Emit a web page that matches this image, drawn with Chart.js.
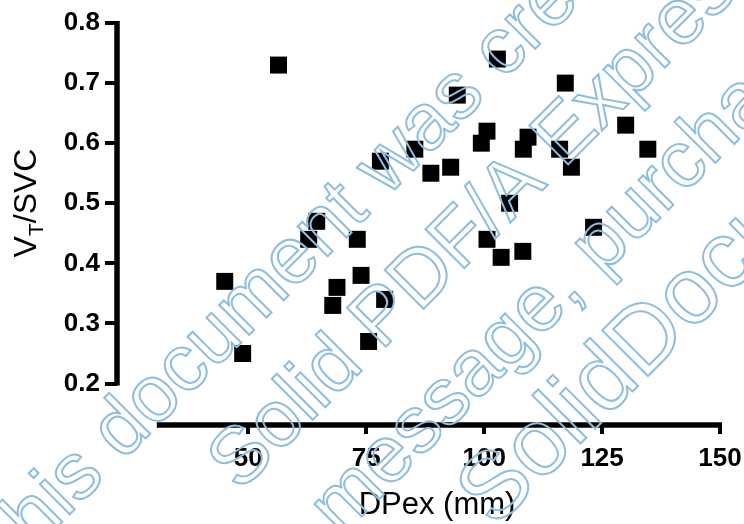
<!DOCTYPE html>
<html><head><meta charset="utf-8">
<script src="https://cdn.jsdelivr.net/npm/chart.js@4/dist/chart.umd.min.js"></script>
<style>html,body{margin:0;padding:0;background:#fff;}canvas{display:block;}</style>
</head><body>
<canvas id="c" width="744" height="524"></canvas>
<script>
// ---- data ----
const dpex  = [45.0, 48.8, 56.4, 62.8, 64.5, 67.9, 68.8, 73.1, 73.9, 75.5, 78.0, 78.9, 85.3, 88.7, 92.9, 94.3, 99.4, 100.6, 100.6, 102.8, 103.6, 105.4, 108.2, 108.3, 109.3, 116.0, 117.2, 118.5, 123.2, 130.0, 134.7];
const vtsvc = [0.37, 0.25, 0.73, 0.44, 0.47, 0.33, 0.36, 0.44, 0.38, 0.27, 0.57, 0.34, 0.59, 0.55, 0.56, 0.68, 0.60, 0.62, 0.44, 0.74, 0.41, 0.50, 0.42, 0.59, 0.61, 0.59, 0.70, 0.56, 0.46, 0.63, 0.59];
const xTicks = [50, 75, 100, 125, 150];
const yTicks = [0.2, 0.3, 0.4, 0.5, 0.6, 0.7, 0.8];
const xAxisStart = 30.6;
const xTitle = 'DPex (mm)';
const yTitleParts = ['V', 'T', '/SVC'];
const watermarkLines = [
  'This document was created with the trial version of',
  'Solid PDF/A Express.',
  'message, purchase the product at',
  'SolidDocuments.com'
];
const watermarkAnchors = ['was', 'PDF/A', 'message,', 'Solid'];
const watermarkAnchorU = [205, 139, 34, 80];
const watermarkBaseV = [413, 518, 621, 724];
const watermarkSize = [80, 80, 80, 94];

const FONT = '"Liberation Sans", Arial, sans-serif';

const points = dpex.map((x, i) => ({x: x, y: vtsvc[i]}));

const decor = {
  id: 'decor',
  afterDraw(chart) {
    const {ctx, chartArea, scales} = chart;
    const xs = scales.x, ys = scales.y;
    ctx.save();
    // axis lines (Prism style, offset)
    ctx.strokeStyle = '#000';
    ctx.lineWidth = 5.5;
    ctx.lineCap = 'butt';
    const yx = chartArea.left;
    ctx.beginPath();
    ctx.moveTo(yx, ys.getPixelForValue(yTicks[0]) + 2);
    ctx.lineTo(yx, ys.getPixelForValue(yTicks[yTicks.length - 1]) - 2);
    ctx.stroke();
    const xy = chartArea.bottom;
    ctx.beginPath();
    ctx.moveTo(xs.getPixelForValue(xAxisStart), xy);
    ctx.lineTo(xs.getPixelForValue(xTicks[xTicks.length - 1]) + 2, xy);
    ctx.stroke();

    // x title
    ctx.fillStyle = '#000';
    ctx.font = '31px ' + FONT;
    ctx.textAlign = 'center';
    ctx.textBaseline = 'alphabetic';
    ctx.fillText(xTitle, 437, 514);

    // y title with subscript
    ctx.save();
    ctx.translate(36, 203);
    ctx.rotate(-Math.PI / 2);
    ctx.textAlign = 'left';
    const big = '32px ' + FONT, small = '21px ' + FONT;
    ctx.font = big; const w0 = ctx.measureText(yTitleParts[0]).width;
    ctx.font = small; const w1 = ctx.measureText(yTitleParts[1]).width;
    ctx.font = big; const w2 = ctx.measureText(yTitleParts[2]).width;
    let sx = -(w0 + w1 + w2) / 2;
    ctx.font = big; ctx.fillText(yTitleParts[0], sx, 0);
    ctx.font = small; ctx.fillText(yTitleParts[1], sx + w0, 7);
    ctx.font = big; ctx.fillText(yTitleParts[2], sx + w0 + w1, 0);
    ctx.restore();

    // watermark (outlined text)
    ctx.save();
    ctx.rotate(-Math.PI / 4);
    ctx.textAlign = 'left';
    ctx.strokeStyle = '#8fbde0';
    ctx.lineWidth = 2;
    watermarkLines.forEach((t, i) => {
      ctx.font = watermarkSize[i] + 'px ' + FONT;
      const a = watermarkAnchors[i];
      const idx = t.indexOf(a);
      const pre = ctx.measureText(t.slice(0, idx)).width;
      const aw = ctx.measureText(a).width;
      const start = watermarkAnchorU[i] - pre - aw / 2;
      ctx.strokeText(t, start, watermarkBaseV[i]);
    });
    ctx.restore();
    ctx.restore();
  }
};

new Chart(document.getElementById('c'), {
  type: 'scatter',
  data: {
    datasets: [{
      data: points,
      pointStyle: 'rect',
      pointRadius: 12,
      pointHoverRadius: 12,
      backgroundColor: '#000',
      borderColor: '#000',
      borderWidth: 0
    }]
  },
  options: {
    responsive: false,
    animation: false,
    devicePixelRatio: 1,
    layout: {padding: {top: 23, right: 24, left: 0, bottom: 0}},
    plugins: {legend: {display: false}, tooltip: {enabled: false}},
    scales: {
      x: {
        type: 'linear',
        min: 22.16, max: 150,
        afterBuildTicks: s => { s.ticks = xTicks.map(v => ({value: v})); },
        afterFit: s => { s.height = 99; s.paddingLeft = 0; s.paddingRight = 0; },
        border: {display: false},
        grid: {display: true, drawOnChartArea: false, drawTicks: true, tickLength: 9, color: '#000', lineWidth: 4},
        ticks: {color: '#000', font: {family: FONT, size: 26, weight: 'bold'}, padding: 9, maxRotation: 0, autoSkip: false,
                callback: v => String(v)}
      },
      y: {
        type: 'linear',
        min: 0.131, max: 0.8,
        afterBuildTicks: s => { s.ticks = yTicks.map(v => ({value: v})); },
        afterFit: s => { s.width = 117; s.paddingTop = 0; s.paddingBottom = 0; },
        border: {display: false},
        grid: {display: true, drawOnChartArea: false, drawTicks: true, tickLength: 12, color: '#000', lineWidth: 4},
        ticks: {color: '#000', font: {family: FONT, size: 26, weight: 'bold'}, padding: 5, autoSkip: false,
                callback: v => Number(v).toFixed(1)}
      }
    }
  },
  plugins: [decor]
});
</script>
</body></html>
